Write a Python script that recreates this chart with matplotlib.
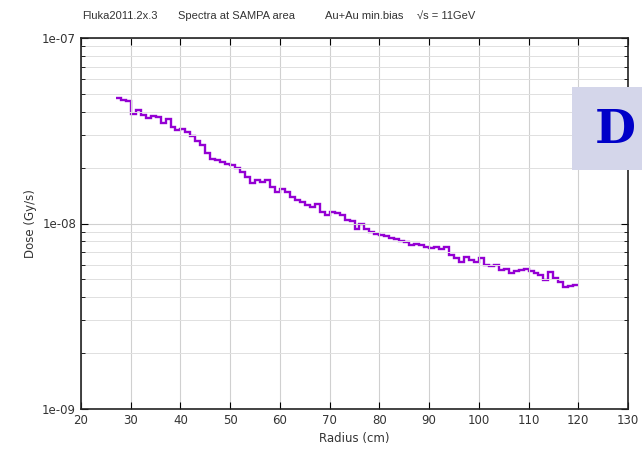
"""Dose vs radius at the SAMPA area (Fluka step spectrum)."""

import matplotlib

matplotlib.use("Agg")
import matplotlib.pyplot as plt
import numpy as np
from matplotlib.patches import Rectangle
from matplotlib.ticker import LogLocator, NullFormatter

# 1 cm bins, left edges 27..119 cm
bin_left = list(range(27, 120))
dose = [
    4.72e-8, 4.65e-8, 4.55e-8, 3.90e-8, 4.08e-8, 3.85e-8, 3.72e-8, 3.80e-8,
    3.76e-8, 3.48e-8, 3.65e-8, 3.33e-8, 3.20e-8, 3.22e-8, 3.12e-8, 2.95e-8,
    2.78e-8, 2.65e-8, 2.40e-8, 2.24e-8, 2.20e-8, 2.14e-8, 2.10e-8,
    2.07e-8, 1.99e-8, 1.90e-8, 1.79e-8, 1.65e-8, 1.72e-8, 1.68e-8, 1.72e-8,
    1.58e-8, 1.48e-8, 1.54e-8, 1.48e-8, 1.39e-8, 1.34e-8, 1.31e-8, 1.26e-8,
    1.23e-8, 1.28e-8, 1.16e-8, 1.11e-8, 1.16e-8, 1.14e-8, 1.11e-8, 1.05e-8,
    1.03e-8, 9.3e-9, 9.9e-9, 9.3e-9, 9.0e-9, 8.8e-9, 8.67e-9, 8.6e-9,
    8.4e-9, 8.2e-9, 8.0e-9, 7.9e-9, 7.66e-9, 7.8e-9, 7.66e-9, 7.5e-9,
    7.4e-9, 7.5e-9, 7.3e-9, 7.5e-9, 6.76e-9, 6.49e-9, 6.22e-9, 6.6e-9,
    6.36e-9, 6.2e-9, 6.5e-9, 5.97e-9, 5.9e-9, 6.0e-9, 5.62e-9, 5.7e-9,
    5.39e-9, 5.55e-9, 5.62e-9, 5.65e-9, 5.55e-9, 5.39e-9, 5.27e-9, 4.95e-9,
    5.5e-9, 5.1e-9, 4.85e-9, 4.56e-9, 4.6e-9, 4.65e-9,
]
x_ticks = list(range(20, 131, 10))
y_ticks = [1e-9, 1e-8, 1e-7]
y_tick_labels = ["1e-09", "1e-08", "1e-07"]
header = ["Fluka2011.2x.3", "Spectra at SAMPA area", "Au+Au min.bias", "\u221as = 11GeV"]

fig = plt.figure(figsize=(6.42, 4.51), dpi=100)
ax = fig.add_axes([81 / 642, 42 / 451, 547 / 642, 371 / 451])

edges = np.array(bin_left + [bin_left[-1] + 1], dtype=float)
ax.stairs(dose, edges, color="#9400d3", linewidth=1.7, baseline=None)

ax.set_yscale("log")
ax.set_xlim(20, 130)
ax.set_ylim(1e-9, 1e-7)
ax.set_xticks(x_ticks)
ax.set_yticks(y_ticks)
ax.set_yticklabels(y_tick_labels)
ax.yaxis.set_minor_locator(LogLocator(base=10, subs=np.arange(2, 10)))
ax.yaxis.set_minor_formatter(NullFormatter())

ax.grid(True, which="major", color="#d0d0d0", linewidth=0.8)
ax.grid(True, which="minor", axis="y", color="#e0e0e0", linewidth=0.7)
ax.tick_params(which="both", direction="in", top=True, right=True,
               labelsize=8.5, labelcolor="#333333")
ax.tick_params(which="major", length=5)
ax.tick_params(which="minor", length=3)
for sp in ax.spines.values():
    sp.set_linewidth(1.2)
    sp.set_color("#222222")

ax.set_xlabel("Radius (cm)", fontsize=8.5, color="#333333")
ax.set_ylabel("Dose (Gy/s)", fontsize=8.5, color="#333333")

for label, xp in zip(header, [82, 178, 325, 417]):
    fig.text(xp / 642, 1 - 16 / 451, label, fontsize=8, color="#333333",
             family=["Liberation Sans Narrow", "Liberation Sans", "DejaVu Sans"],
             ha="left", va="center")

# lavender overlay box at the right edge
fig.patches.append(Rectangle((572 / 642, 1 - 170 / 451), 80 / 642, 83 / 451,
                             transform=fig.transFigure, facecolor="#d4d6ea",
                             edgecolor="none", zorder=5))
fig.text(636 / 642, 1 - 130 / 451, "D", fontsize=34, fontweight="bold",
         family="DejaVu Serif", color="#0000c8", ha="right", va="center",
         zorder=6)

fig.savefig("out.png", dpi=100)
